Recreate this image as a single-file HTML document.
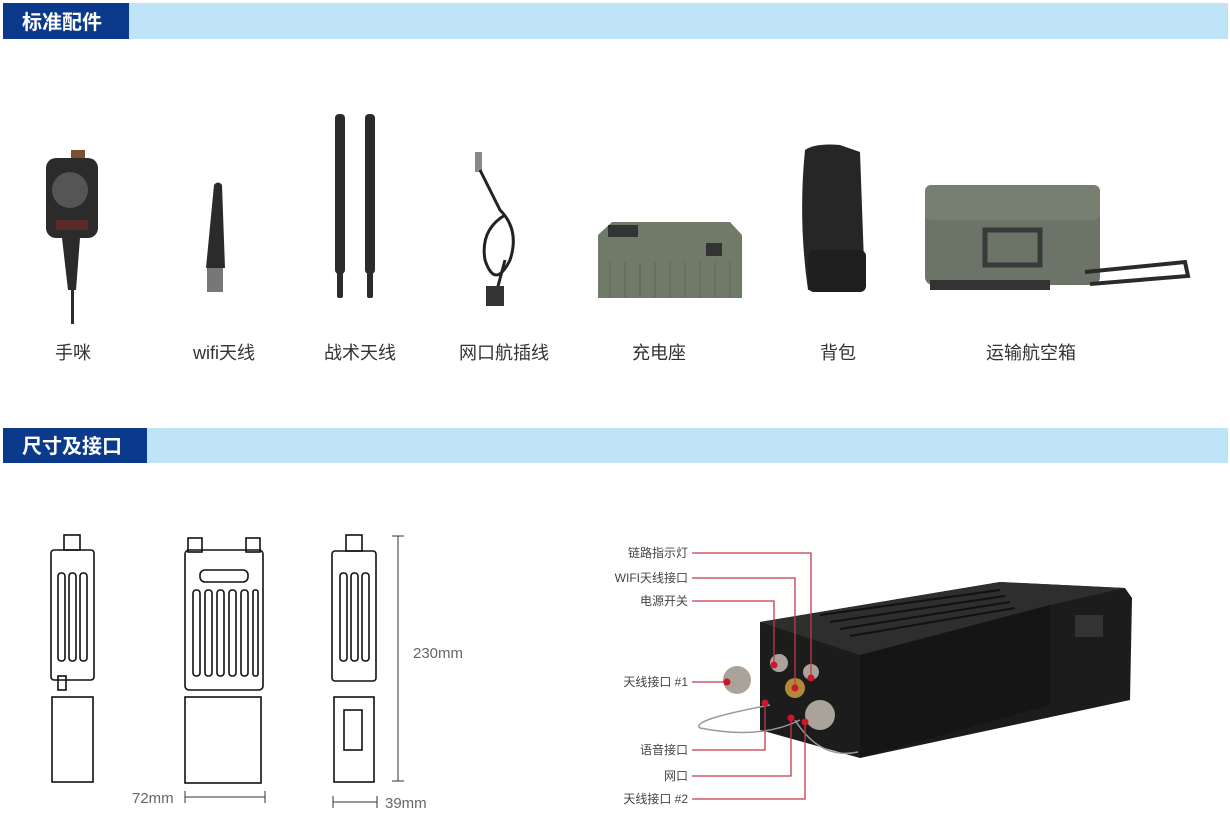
<!DOCTYPE html>
<html><head><meta charset="utf-8"><style>
body{margin:0;width:1230px;height:819px;background:#fff;overflow:hidden;font-family:"Liberation Sans","Noto Sans CJK SC",sans-serif}
svg{position:absolute;left:0;top:0}
</style></head><body>
<svg width="1230" height="819" viewBox="0 0 1230 819" font-family="Liberation Sans, Noto Sans CJK SC, sans-serif">
<rect x="3" y="3" width="1225" height="36" fill="#bfe3f7"/>
<rect x="3" y="3" width="126" height="36" fill="#0b3a8d"/>
<text x="22" y="29" font-size="20" font-weight="bold" fill="#fff">标准配件</text>
<rect x="3" y="428" width="1225" height="35" fill="#bfe3f7"/>
<rect x="3" y="428" width="144" height="35" fill="#0b3a8d"/>
<text x="22" y="453" font-size="20" font-weight="bold" fill="#fff">尺寸及接口</text>

<g fill="#2b2b2b">
 <rect x="71" y="150" width="14" height="10" fill="#7a5030"/>
 <rect x="46" y="158" width="52" height="80" rx="10"/>
 <circle cx="70" cy="190" r="18" fill="#555"/>
 <rect x="56" y="220" width="32" height="10" fill="#5a2a2a"/>
 <path d="M62 238 L80 238 L76 290 L68 290Z"/>
 <rect x="71" y="288" width="3" height="36"/>
 <path d="M214 185 Q218 180 222 185 L225 268 L206 268Z"/>
 <rect x="207" y="268" width="16" height="24" fill="#777"/>
 <rect x="335" y="114" width="10" height="160" rx="4"/>
 <rect x="337" y="270" width="6" height="28" rx="2"/>
 <rect x="365" y="114" width="10" height="160" rx="4"/>
 <rect x="367" y="270" width="6" height="28" rx="2"/>
 <rect x="475" y="152" width="7" height="20" fill="#888"/>
</g>
<path d="M480 170 L500 210 Q520 230 510 260 Q495 290 485 260 Q480 230 505 215" fill="none" stroke="#222" stroke-width="3"/>
<path d="M505 260 L497 290" stroke="#222" stroke-width="3"/>
<rect x="486" y="286" width="18" height="20" fill="#333"/>
<path d="M598 235 L612 222 L730 222 L742 235 L742 298 L598 298Z" fill="#6f7a68"/>
<rect x="608" y="225" width="30" height="12" fill="#333"/>
<rect x="706" y="243" width="16" height="13" fill="#333"/>
<g stroke="#5c6657" stroke-width="1">
<line x1="610" y1="262" x2="610" y2="298"/><line x1="625" y1="262" x2="625" y2="298"/><line x1="640" y1="262" x2="640" y2="298"/><line x1="655" y1="262" x2="655" y2="298"/><line x1="670" y1="262" x2="670" y2="298"/><line x1="685" y1="262" x2="685" y2="298"/><line x1="700" y1="262" x2="700" y2="298"/><line x1="715" y1="262" x2="715" y2="298"/><line x1="730" y1="262" x2="730" y2="298"/></g>
<path d="M805 150 Q815 143 840 145 L860 152 L865 290 L808 290 Q798 220 805 150Z" fill="#262626"/>
<rect x="808" y="250" width="58" height="42" rx="6" fill="#1e1e1e"/>
<rect x="925" y="185" width="175" height="100" rx="8" fill="#6b7466"/>
<rect x="925" y="185" width="175" height="35" rx="6" fill="#778070"/>
<rect x="985" y="230" width="55" height="35" fill="none" stroke="#3a3a3a" stroke-width="5"/>
<path d="M1085 272 L1185 262 L1188 276 L1090 284" fill="none" stroke="#2a2a2a" stroke-width="4"/>
<rect x="930" y="280" width="120" height="10" fill="#333"/>

<g font-size="18" fill="#333" text-anchor="middle">
<text x="73" y="359">手咪</text><text x="224" y="359">wifi天线</text><text x="360" y="359">战术天线</text>
<text x="504" y="359">网口航插线</text><text x="659" y="359">充电座</text><text x="838" y="359">背包</text><text x="1031" y="359">运输航空箱</text>
</g>

<g fill="none" stroke="#111" stroke-width="1.6">
 <rect x="51" y="550" width="43" height="130" rx="3"/>
 <rect x="64" y="535" width="16" height="15"/>
 <rect x="58" y="573" width="7" height="88" rx="3"/><rect x="69" y="573" width="7" height="88" rx="3"/><rect x="80" y="573" width="7" height="88" rx="3"/>
 <rect x="52" y="697" width="41" height="85"/>
 <rect x="58" y="676" width="8" height="14"/>
 <rect x="185" y="550" width="78" height="140" rx="4"/>
 <rect x="188" y="538" width="14" height="14"/><rect x="246" y="538" width="14" height="14"/>
 <rect x="200" y="570" width="48" height="12" rx="5"/>
 <rect x="193" y="590" width="7" height="86" rx="3"/><rect x="205" y="590" width="7" height="86" rx="3"/><rect x="217" y="590" width="7" height="86" rx="3"/><rect x="229" y="590" width="7" height="86" rx="3"/><rect x="241" y="590" width="7" height="86" rx="3"/><rect x="253" y="590" width="5" height="86" rx="2"/>
 <rect x="185" y="697" width="76" height="86"/>
 <rect x="332" y="551" width="44" height="130" rx="3"/>
 <rect x="346" y="535" width="16" height="16"/>
 <rect x="340" y="573" width="7" height="88" rx="3"/><rect x="351" y="573" width="7" height="88" rx="3"/><rect x="362" y="573" width="7" height="88" rx="3"/>
 <rect x="334" y="697" width="40" height="85"/>
 <rect x="344" y="710" width="18" height="40"/>
</g>
<g stroke="#333" stroke-width="1">
 <line x1="398" y1="536" x2="398" y2="781"/><line x1="392" y1="536" x2="404" y2="536"/><line x1="392" y1="781" x2="404" y2="781"/>
 <line x1="185" y1="797" x2="265" y2="797"/><line x1="185" y1="791" x2="185" y2="803"/><line x1="265" y1="791" x2="265" y2="803"/>
 <line x1="333" y1="802" x2="377" y2="802"/><line x1="333" y1="796" x2="333" y2="808"/><line x1="377" y1="796" x2="377" y2="808"/>
</g>
<g font-size="15" fill="#666"><text x="413" y="658">230mm</text><text x="132" y="803">72mm</text><text x="385" y="808">39mm</text></g>

<path d="M760 622 L1000 582 L1125 588 L1132 598 L1130 700 L860 758 L760 730Z" fill="#1c1c1c"/>
<path d="M760 622 L1000 582 L1125 588 L1050 605 L860 655Z" fill="#2e2e2e"/>
<g stroke="#111" stroke-width="2">
<line x1="820" y1="615" x2="1000" y2="590"/><line x1="830" y1="622" x2="1005" y2="596"/><line x1="840" y1="629" x2="1010" y2="602"/><line x1="850" y1="636" x2="1015" y2="608"/></g>
<path d="M860 655 L1050 605 L1050 705 L860 758Z" fill="#151515"/>
<rect x="1075" y="615" width="28" height="22" fill="#333"/>
<g fill="#a9a39a"><circle cx="737" cy="680" r="14"/><circle cx="820" cy="715" r="15"/><circle cx="795" cy="688" r="10" fill="#b08a3a"/><circle cx="779" cy="663" r="9"/><circle cx="811" cy="672" r="8"/></g>
<path d="M770 705 Q690 720 700 728 Q760 740 800 720 M795 720 Q820 760 858 752" fill="none" stroke="#999" stroke-width="1.5"/>

<g stroke="#c0394a" stroke-width="1.3" fill="none">
 <path d="M692 553 H811 V678"/><path d="M692 578 H795 V688"/><path d="M692 601 H774 V665"/>
 <path d="M692 682 H727"/><path d="M692 750 H765 V703"/><path d="M692 776 H791 V718"/><path d="M692 799 H805 V722"/>
</g>
<g fill="#d0142a"><circle cx="811" cy="678" r="3.5"/><circle cx="795" cy="688" r="3.5"/><circle cx="774" cy="665" r="3.5"/><circle cx="727" cy="682" r="3.5"/><circle cx="765" cy="703" r="3.5"/><circle cx="791" cy="718" r="3.5"/><circle cx="805" cy="722" r="3.5"/></g>
<g font-size="12" fill="#444" text-anchor="end">
<text x="688" y="557">链路指示灯</text><text x="688" y="582">WIFI天线接口</text><text x="688" y="605">电源开关</text>
<text x="688" y="686">天线接口 #1</text><text x="688" y="754">语音接口</text><text x="688" y="780">网口</text><text x="688" y="803">天线接口 #2</text>
</g>
</svg>
</body></html>
